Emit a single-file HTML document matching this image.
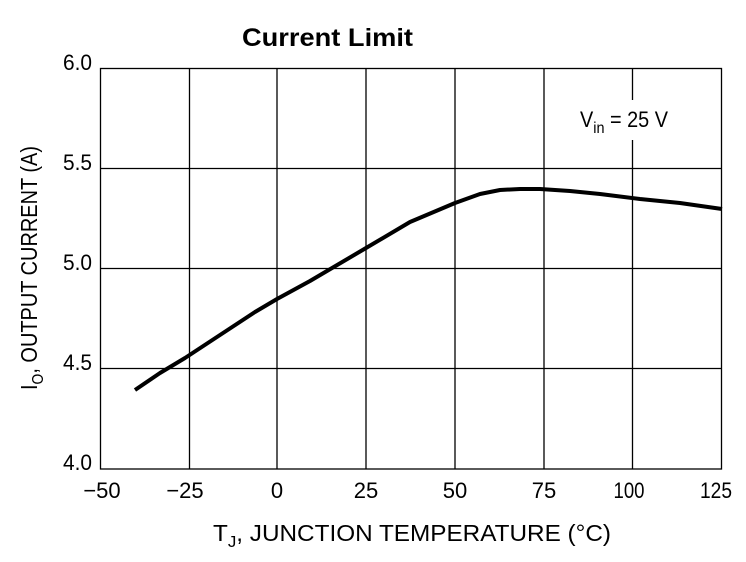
<!DOCTYPE html>
<html><head><style>body{margin:0;background:#fff}</style></head><body>
<svg width="746" height="557" xmlns="http://www.w3.org/2000/svg" font-family="Liberation Sans, sans-serif">
<rect width="746" height="557" fill="#fff"/>
<g stroke="#000" stroke-width="1.3" fill="none">
<rect x="100.5" y="68.5" width="621" height="400.5"/>
<path d="M189.5 68.5V469M277 68.5V469M366 68.5V469M455 68.5V469M544 68.5V469M632.5 68.5V469M100.5 168.5H721.5M100.5 268.5H721.5M100.5 368.5H721.5"/>
</g>
<rect x="560" y="100" width="125" height="40" fill="#fff"/>
<path d="M135,390 L160,373 L185,358 L220,335 L255,312 L277,299 L310,281 L366,248 L410,222 L455,203 L480,194 L500,190 L520,189 L540,189 L570,191 L600,194 L640,199 L680,203 L722,209" fill="none" stroke="#000" stroke-width="4" stroke-linejoin="round"/>
<text x="242" y="46" font-size="25" font-weight="bold" textLength="171" lengthAdjust="spacingAndGlyphs">Current Limit</text>
<g font-size="22" text-anchor="end">
<text x="92" y="70" textLength="29" lengthAdjust="spacingAndGlyphs">6.0</text><text x="92" y="170" textLength="29" lengthAdjust="spacingAndGlyphs">5.5</text><text x="92" y="270" textLength="29" lengthAdjust="spacingAndGlyphs">5.0</text><text x="92" y="370" textLength="29" lengthAdjust="spacingAndGlyphs">4.5</text><text x="92" y="470" textLength="29" lengthAdjust="spacingAndGlyphs">4.0</text>
</g>
<g font-size="22" text-anchor="middle">
<text x="102" y="498">−50</text><text x="185" y="498">−25</text><text x="277" y="498">0</text><text x="366" y="498">25</text><text x="455" y="498">50</text><text x="544" y="498">75</text><text x="629" y="498" textLength="31" lengthAdjust="spacingAndGlyphs">100</text><text x="716" y="498" textLength="32" lengthAdjust="spacingAndGlyphs">125</text>
</g>
<text x="213" y="541" font-size="23" textLength="398" lengthAdjust="spacingAndGlyphs">T<tspan font-size="16" dy="6">J</tspan><tspan dy="-6">, JUNCTION TEMPERATURE (°C)</tspan></text>
<text transform="translate(37,390) rotate(-90)" font-size="23" textLength="244" lengthAdjust="spacingAndGlyphs">I<tspan font-size="16" dy="6">O</tspan><tspan dy="-6">, OUTPUT CURRENT (A)</tspan></text>
<text x="580" y="127" font-size="22" textLength="88" lengthAdjust="spacingAndGlyphs">V<tspan font-size="16" dy="6">in</tspan><tspan dy="-6"> = 25 V</tspan></text>
</svg>
</body></html>
